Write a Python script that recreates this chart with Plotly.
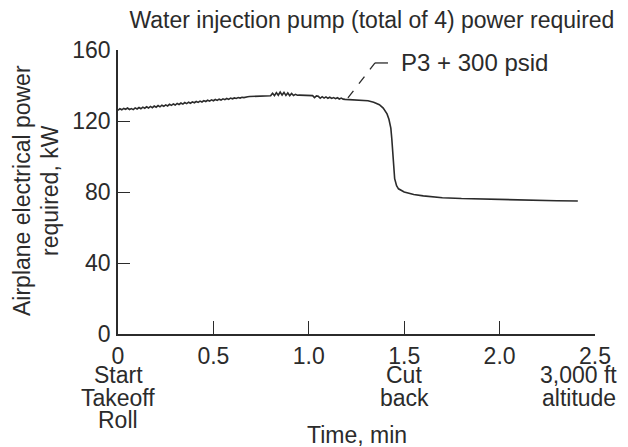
import plotly.graph_objects as go

# ---- data ----
time_min = [
    0.00, 0.01, 0.02, 0.03, 0.04, 0.05, 0.06, 0.07, 0.08, 0.09,
    0.10, 0.11, 0.12, 0.13, 0.14, 0.15, 0.16, 0.17, 0.18, 0.19,
    0.20, 0.21, 0.22, 0.23, 0.24, 0.25, 0.26, 0.27, 0.28, 0.29,
    0.30, 0.31, 0.32, 0.33, 0.34, 0.35, 0.36, 0.37, 0.38, 0.39,
    0.40, 0.41, 0.42, 0.43, 0.44, 0.45, 0.46, 0.47, 0.48, 0.49,
    0.50, 0.51, 0.52, 0.53, 0.54, 0.55, 0.56, 0.57, 0.58, 0.59,
    0.60, 0.61, 0.62, 0.63, 0.64, 0.65, 0.66, 0.67, 0.68, 0.69,
    0.70, 0.71, 0.72, 0.73, 0.74, 0.75, 0.76, 0.77, 0.78, 0.79,
    0.80, 0.81, 0.82, 0.83, 0.84, 0.85, 0.86, 0.87, 0.88, 0.89,
    0.90, 0.91, 0.92, 0.93, 0.94, 0.95, 0.96, 0.97, 0.98, 0.99,
    1.00, 1.01, 1.02, 1.03, 1.04, 1.05, 1.06, 1.07, 1.08, 1.09,
    1.10, 1.11, 1.12, 1.13, 1.14, 1.15, 1.16, 1.17, 1.18, 1.19,
    1.20, 1.21, 1.22, 1.23, 1.24, 1.25,
    1.28, 1.31, 1.34, 1.37, 1.39, 1.41, 1.42, 1.43, 1.435, 1.44,
    1.445, 1.45, 1.46, 1.47, 1.50, 1.55, 1.60, 1.65, 1.70, 1.80,
    1.90, 2.00, 2.10, 2.20, 2.30, 2.41,
]
power_kw = [
    126.0, 126.9, 126.3, 127.1, 126.6, 127.3, 126.5, 127.0, 126.4, 127.4,
    126.8, 127.6, 126.9, 127.8, 127.2, 128.0, 127.3, 128.2, 127.5, 128.4,
    127.8, 128.7, 128.0, 128.9, 128.3, 129.1, 128.5, 129.4, 128.8, 129.6,
    129.0, 129.9, 129.3, 130.1, 129.5, 130.4, 129.8, 130.6, 130.0, 130.8,
    130.3, 131.0, 130.5, 131.2, 130.7, 131.5, 131.0, 131.7, 131.2, 131.9,
    131.4, 132.1, 131.6, 132.3, 131.8, 132.5, 132.0, 132.7, 132.2, 132.9,
    132.5, 133.0, 132.7, 133.2, 132.9, 133.4, 133.2, 133.6, 133.7, 133.8,
    133.8, 133.9, 133.9, 133.9, 134.0, 134.0, 134.0, 134.0, 134.0, 134.0,
    134.2, 135.6, 134.3, 136.0, 134.5, 136.3, 134.6, 136.1, 134.4, 135.8,
    134.3, 135.5, 134.4, 135.0, 134.5, 134.6, 134.6, 134.5, 134.5, 134.4,
    134.4, 134.3, 134.3, 133.2, 134.1, 133.9, 132.8, 133.7, 132.9, 133.6,
    132.8, 133.4, 132.7, 133.2, 132.6, 133.1, 132.4, 132.9, 132.3, 132.2,
    132.1, 132.0, 132.0, 131.9, 131.9, 131.8,
    131.7, 131.4, 130.6, 129.2, 127.3, 124.0, 121.0, 116.0, 110.0, 102.0,
    94.0, 87.5, 83.5, 81.8, 80.0, 78.6, 77.8, 77.2, 76.8, 76.3,
    76.0, 75.8, 75.5, 75.3, 75.1, 74.9,
]

x_tickvals = [0, 0.5, 1.0, 1.5, 2.0, 2.5]
x_ticktext = ["0", "0.5", "1.0", "1.5", "2.0", "2.5"]
y_tickvals = [0, 40, 80, 120, 160]

# event labels written under selected ticks (one entry per text line)
event_x = [0, 0, 0, 1.5, 1.5, 2.414, 2.414]
event_line = [0, 1, 2, 0, 1, 0, 1]
event_text = ["Start", "Takeoff", "Roll", "Cut", "back", "3,000 ft", "altitude"]

title_text = "Water injection pump (total of 4) power required"
y_title_lines = ["Airplane electrical power", "required, kW"]
x_title = "Time, min"
callout_text = "P3 + 300 psid"
callout_pt = (1.205, 133.0)
callout_elbow = (1.347, 152.7)
callout_end = (1.415, 152.7)

FONT = "Liberation Sans, Arial, sans-serif"
INK = "#2b2b2b"
FS = 23

fig = go.Figure()
fig.add_trace(go.Scatter(x=time_min, y=power_kw, mode="lines",
                         line=dict(color=INK, width=1.6), showlegend=False,
                         hoverinfo="skip"))

fig.add_shape(type="line", xref="x", yref="y",
              x0=callout_pt[0], y0=callout_pt[1],
              x1=callout_elbow[0], y1=callout_elbow[1],
              line=dict(color=INK, width=1.3, dash="dash"))
fig.add_shape(type="line", xref="x", yref="y",
              x0=callout_elbow[0], y0=callout_elbow[1],
              x1=callout_end[0], y1=callout_end[1],
              line=dict(color=INK, width=1.3))
fig.add_annotation(x=1.475, y=callout_end[1], xref="x", yref="y",
                   text=callout_text, showarrow=False, xanchor="left",
                   yanchor="middle", font=dict(size=24, color=INK, family=FONT))

# y-axis title (two lines, rotated)
for xp, line in zip([-0.2013, -0.1426], y_title_lines):
    fig.add_annotation(x=xp, y=0.507, xref="paper", yref="paper",
                       text=line, showarrow=False, textangle=-90,
                       xanchor="center", yanchor="middle",
                       font=dict(size=FS, color=INK, family=FONT))

# event labels under ticks
line_y = [-0.1444, -0.2243, -0.3028]
for ex, li, et in zip(event_x, event_line, event_text):
    fig.add_annotation(x=ex, y=line_y[li], xref="x", yref="paper",
                       text=et, showarrow=False, xanchor="center",
                       yanchor="middle",
                       font=dict(size=FS, color=INK, family=FONT))

fig.add_annotation(x=0.502, y=-0.357, xref="paper", yref="paper",
                   text=x_title, showarrow=False,
                   xanchor="center", yanchor="middle",
                   font=dict(size=FS, color=INK, family=FONT))

# the page body adds an 8px offset, so the figure is 8px smaller than the window
fig.update_layout(
    width=620, height=439,
    margin=dict(l=110, r=33, t=42, b=113),
    paper_bgcolor="white", plot_bgcolor="white",
    font=dict(family=FONT, size=FS, color=INK),
    title=dict(text=title_text, x=0.587, xanchor="center",
               y=0.973, yanchor="middle",
               font=dict(size=23, color=INK, family=FONT)),
)
fig.update_xaxes(range=[0, 2.5], tickmode="array", tickvals=x_tickvals,
                 ticktext=x_ticktext, ticks="inside", ticklen=13,
                 tickwidth=1.3, tickcolor=INK, showline=True, linecolor=INK,
                 linewidth=1.8, showgrid=False, zeroline=False,
                 automargin=False)
fig.update_yaxes(range=[0, 160], tickmode="array", tickvals=y_tickvals,
                 ticks="inside", ticklen=12, tickwidth=1.3, tickcolor=INK,
                 showline=True, linecolor=INK, linewidth=1.8,
                 showgrid=False, zeroline=False, automargin=False,
                 ticklabelstandoff=1)

fig.write_html("out.html")
